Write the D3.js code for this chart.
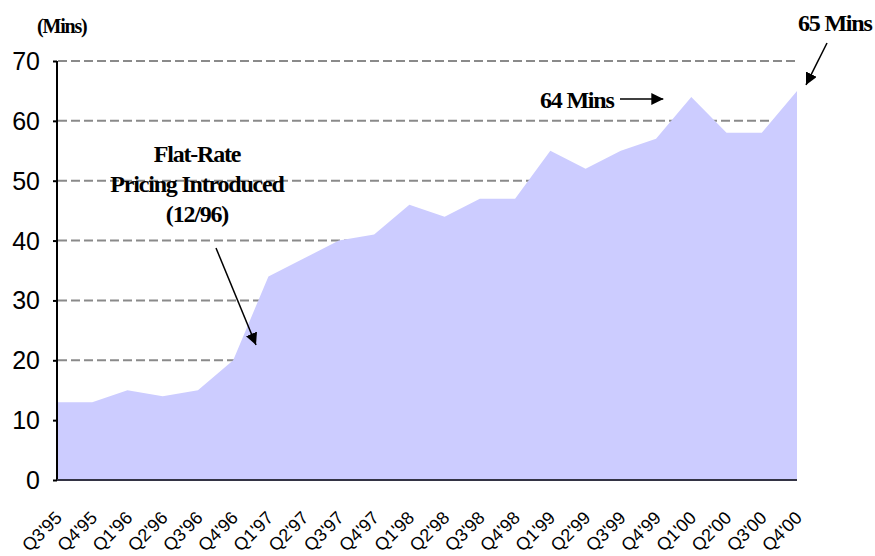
<!DOCTYPE html>
<html>
<head>
<meta charset="utf-8">
<script src="https://cdn.jsdelivr.net/npm/d3@7"></script>
<style>
  html, body { margin: 0; padding: 0; background: #fff; }
  svg { display: block; }
  .ylab { font-family: "Liberation Sans", Arial, sans-serif; font-size: 25px; fill: #000; }
  .xlab { font-family: "Liberation Sans", Arial, sans-serif; font-size: 18px; fill: #000; }
  .note { font-family: "Liberation Serif", "Times New Roman", serif; font-weight: bold; font-size: 24px; letter-spacing: -1.2px; fill: #000; }
</style>
</head>
<body>
<script>
// Average minutes of use per quarter
const quarters = ["Q3'95","Q4'95","Q1'96","Q2'96","Q3'96","Q4'96","Q1'97","Q2'97","Q3'97","Q4'97","Q1'98",
                  "Q2'98","Q3'98","Q4'98","Q1'99","Q2'99","Q3'99","Q4'99","Q1'00","Q2'00","Q3'00","Q4'00"];
const minutes  = [13, 13, 15, 14, 15, 20, 34, 37, 40, 41, 46,
                  44, 47, 47, 55, 52, 55, 57, 64, 58, 58, 65];
const yTicks   = [0, 10, 20, 30, 40, 50, 60, 70];
const flatRateNote = ["Flat-Rate", "Pricing Introduced", "(12/96)"];

const W = 875, H = 556;
const plotLeft = 57, plotRight = 797, plotTop = 61, plotBottom = 480;

const svg = d3.select("body").append("svg").attr("width", W).attr("height", H);

const x = d3.scalePoint().domain(quarters).range([plotLeft, plotRight]);
const y = d3.scaleLinear().domain([0, 70]).range([plotBottom, plotTop]);

// Dashed horizontal gridlines
svg.append("g").selectAll("line")
  .data(yTicks.filter(d => d > 0))
  .join("line")
  .attr("x1", plotLeft + 1).attr("x2", plotRight)
  .attr("y1", d => y(d)).attr("y2", d => y(d))
  .attr("stroke", "#8a8a8a").attr("stroke-width", 2)
  .attr("stroke-dasharray", "9,4");

// Filled area
const area = d3.area()
  .x((d, i) => x(quarters[i]))
  .y0(y(0))
  .y1(d => y(d));
svg.append("path").datum(minutes)
  .attr("d", area)
  .attr("fill", "#ccccff");

// Y axis
const yAxis = d3.axisLeft(y).tickValues(yTicks).tickSize(4).tickFormat("");
const yg = svg.append("g").attr("transform", `translate(${plotLeft},0)`).call(yAxis);
yg.select(".domain").attr("stroke", "#000").attr("stroke-width", 2).attr("d", `M0,${plotTop}V${plotBottom}`);
yg.selectAll(".tick line").attr("stroke", "#000").attr("stroke-width", 2);

svg.append("g").selectAll("text")
  .data(yTicks)
  .join("text")
  .attr("class", "ylab")
  .attr("x", 40)
  .attr("y", d => y(d))
  .attr("dy", "0.36em")
  .attr("text-anchor", "end")
  .text(d => d);

// X axis
const xAxis = d3.axisBottom(x).tickSize(0).tickFormat("");
const xg = svg.append("g").attr("transform", `translate(0,${plotBottom})`).call(xAxis);
xg.select(".domain").attr("stroke", "#333344").attr("stroke-width", 2).attr("d", `M${plotLeft},0H${plotRight}`);

svg.append("g").selectAll("text")
  .data(quarters)
  .join("text")
  .attr("class", "xlab")
  .attr("text-anchor", "end")
  .attr("transform", d => `translate(${x(d) + 6},${plotBottom + 39}) rotate(-45)`)
  .text(d => d);

// Unit label
svg.append("text").attr("class", "note")
  .attr("x", 37).attr("y", 33)
  .style("font-size", "20px")
  .text("(Mins)");

// Arrowhead marker
svg.append("defs").append("marker")
  .attr("id", "arrow")
  .attr("viewBox", "0 0 10 10")
  .attr("refX", 10).attr("refY", 5)
  .attr("markerWidth", 8).attr("markerHeight", 8)
  .attr("markerUnits", "strokeWidth")
  .attr("orient", "auto")
  .append("path").attr("d", "M0,0L10,5L0,10Z").attr("fill", "#000");

function arrow(x1, y1, x2, y2) {
  svg.append("line")
    .attr("x1", x1).attr("y1", y1).attr("x2", x2).attr("y2", y2)
    .attr("stroke", "#000").attr("stroke-width", 1.5)
    .attr("marker-end", "url(#arrow)");
}

// Flat-rate pricing note
const noteX = 197;
svg.append("text").attr("class", "note")
  .attr("x", noteX).attr("y", 162)
  .attr("text-anchor", "middle")
  .selectAll("tspan")
  .data(flatRateNote)
  .join("tspan")
  .attr("x", noteX)
  .attr("dy", (d, i) => i === 0 ? 0 : 30)
  .text(d => d);
arrow(216, 248, 256, 345);

// Peak quarter note
const iPeak = quarters.indexOf("Q1'00");
svg.append("text").attr("class", "note")
  .attr("x", 540).attr("y", 108)
  .text(`${minutes[iPeak]} Mins`);
arrow(620, 99, x(quarters[iPeak]) - 28, 99);

// Latest quarter note
const iLast = quarters.length - 1;
svg.append("text").attr("class", "note")
  .attr("x", 798).attr("y", 31)
  .text(`${minutes[iLast]} Mins`);
arrow(827, 43, x(quarters[iLast]) + 9, y(minutes[iLast]) - 6);
</script>
</body>
</html>
